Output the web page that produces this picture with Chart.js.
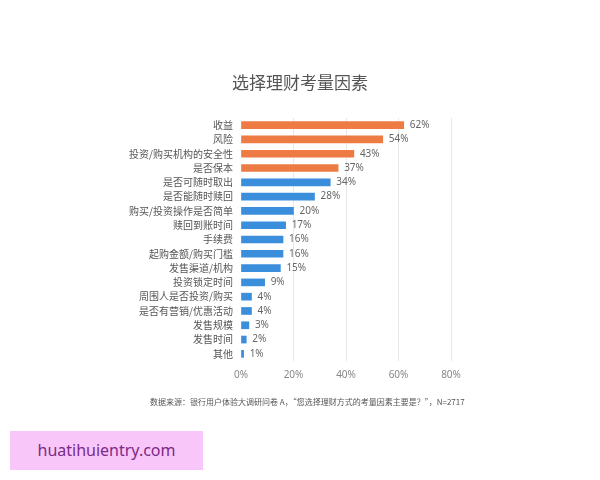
<!DOCTYPE html>
<html>
<head>
<meta charset="utf-8">
<script src="https://cdn.jsdelivr.net/npm/chart.js@4/dist/chart.umd.min.js"></script>
<style>
  body { margin: 0; background: #fff; }
  #wrap { position: relative; width: 600px; height: 480px; }
  #titolo {
    position: absolute; left: 0; top: 71px; width: 600px; text-align: center;
    font: 17px "Noto Sans CJK SC", sans-serif; color: #555; line-height: 22px;
  }
  #note {
    position: absolute; left: 150px; top: 396px;
    font: 8px "Noto Sans CJK SC", sans-serif; color: #555; white-space: nowrap;
  }
  #mark {
    position: absolute; left: 10px; top: 431px; width: 193px; height: 39px;
    background: #f9c6f9; color: #7b2a8a; font: 16px "Noto Sans", sans-serif;
    line-height: 39px; text-align: center;
  }
</style>
</head>
<body>
<div id="wrap">
  <canvas id="grafico" width="600" height="480"></canvas>
  <div id="titolo">选择理财考量因素</div>
  <div id="note">数据来源：银行用户体验大调研问卷 A，“您选择理财方式的考量因素主要是？”，N=2717</div>
  <div id="mark">huatihuientry.com</div>
</div>
<script>
let fattori = ['收益', '风险', '投资/购买机构的安全性', '是否保本', '是否可随时取出', '是否能随时赎回',
  '购买/投资操作是否简单', '赎回到账时间', '手续费', '起购金额/购买门槛', '发售渠道/机构',
  '投资锁定时间', '周围人是否投资/购买', '是否有营销/优惠活动', '发售规模', '发售时间', '其他'];
let percentuali = [62, 54, 43, 37, 34, 28, 20, 17, 16, 16, 15, 9, 4, 4, 3, 2, 1];
let evidenziati = 4; // prime 4 barre in arancione
let tickX = [0, 20, 40, 60, 80];

let colori = percentuali.map(function (v, i) {
    return i < evidenziati ? '#ee7b43' : '#3a8edb';
});

// etichette con la percentuale a destra delle barre
const etichette = {
    id: 'etichette',
    afterDatasetsDraw: function (chart) {
        const ctx = chart.ctx;
        const meta = chart.getDatasetMeta(0);
        ctx.save();
        ctx.font = '10px "Noto Sans", sans-serif';
        ctx.fillStyle = '#666';
        ctx.textBaseline = 'middle';
        meta.data.forEach(function (bar, i) {
            ctx.fillText(percentuali[i] + '%', bar.x + 6, bar.y);
        });
        ctx.restore();
    }
};

var ctx = document.getElementById('grafico');
var myChart = new Chart(ctx, {
    type: 'bar',
    data: {
        labels: fattori,
        datasets: [{
            data: percentuali,
            backgroundColor: colori,
            barThickness: 7
        }]
    },
    options: {
        indexAxis: 'y',
        responsive: false,
        animation: false,
        layout: { padding: { top: 118, right: 149, bottom: 91, left: 0 } },
        plugins: {
            legend: { display: false },
            tooltip: { enabled: false },
            title: { display: false }
        },
        scales: {
            x: {
                min: 0,
                max: 80,
                afterBuildTicks: function (scale) {
                    scale.ticks = tickX.map(function (v) { return { value: v }; });
                },
                ticks: {
                    color: '#888',
                    font: { size: 10, family: '"Noto Sans", sans-serif' },
                    padding: 8,
                    callback: function (v) { return v + '%'; }
                },
                grid: {
                    color: function (c) { return c.tick && c.tick.value === 0 ? 'rgba(0,0,0,0)' : '#e8e8e8'; },
                    drawTicks: false
                },
                border: { display: false }
            },
            y: {
                afterFit: function (scale) { scale.width = 241; },
                ticks: {
                    color: '#555',
                    font: { size: 10, family: '"Noto Sans CJK SC", sans-serif' },
                    padding: 0,
                    autoSkip: false
                },
                grid: { display: false },
                border: { display: false }
            }
        }
    },
    plugins: [etichette]
});
</script>
</body>
</html>
